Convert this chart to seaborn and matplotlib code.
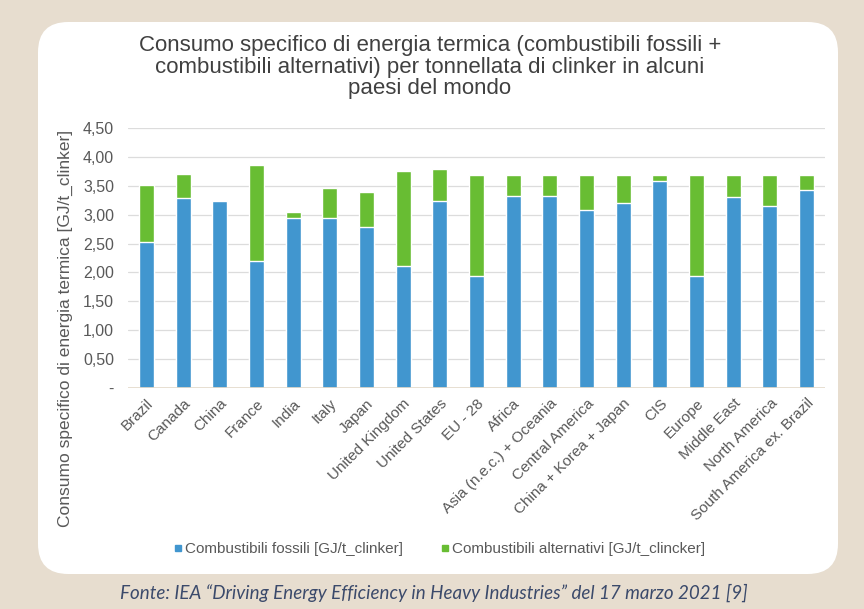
import numpy as np
import pandas as pd
import matplotlib
matplotlib.use("Agg")
import matplotlib.pyplot as plt
import seaborn as sbn
from matplotlib.patches import FancyBboxPatch
from matplotlib.lines import Line2D

# dati
paesi = ["Brazil", "Canada", "China", "France", "India", "Italy", "Japan",
         "United Kingdom", "United States", "EU - 28", "Africa",
         "Asia (n.e.c.) + Oceania", "Central America", "China + Korea + Japan",
         "CIS", "Europe", "Middle East", "North America",
         "South America ex. Brazil"]
fossili = [2.53, 3.29, 3.24, 2.19, 2.95, 2.95, 2.79, 2.12, 3.23, 1.93,
           3.33, 3.33, 3.08, 3.20, 3.59, 1.93, 3.31, 3.15, 3.43]
alternativi = [0.99, 0.42, 0.01, 1.67, 0.09, 0.52, 0.61, 1.64, 0.56, 1.75,
               0.36, 0.36, 0.61, 0.49, 0.10, 1.76, 0.38, 0.54, 0.26]
y_ticks = [0, 0.5, 1.0, 1.5, 2.0, 2.5, 3.0, 3.5, 4.0, 4.5]
y_tick_labels = ["-", "0,50", "1,00", "1,50", "2,00", "2,50", "3,00", "3,50", "4,00", "4,50"]

df = pd.DataFrame({"paese": paesi, "fossili": fossili, "alternativi": alternativi})
df["totale"] = df["fossili"] + df["alternativi"]

blu = "#4196cf"
verde = "#68bd33"
grigio = "#595959"

sbn.set_style("white")
plt.rcParams["font.family"] = ["Liberation Sans", "DejaVu Sans"]

fig = plt.figure(figsize=(8.64, 6.09), dpi=100)
fig.patch.set_facecolor("#e7ddcf")

# riquadro bianco arrotondato
box = FancyBboxPatch((38 / 864, 1 - 574 / 609), (838 - 38) / 864, (574 - 22) / 609,
                     boxstyle="round,pad=0,rounding_size=0.035",
                     transform=fig.transFigure, facecolor="white", edgecolor="none",
                     mutation_aspect=864 / 609, zorder=-1)
fig.patches.append(box)

ax = fig.add_axes([128 / 864, 1 - 388 / 609, (825 - 128) / 864, (388 - 128) / 609])
ax.set_facecolor("none")

sbn.barplot(data=df, x="paese", y="totale", color=verde, width=0.41,
            saturation=1, ax=ax, zorder=3)
sbn.barplot(data=df, x="paese", y="fossili", color=blu, width=0.41,
            saturation=1, ax=ax, zorder=4)

ax.set_ylim(0, 4.5)
ax.set_xlim(-0.5, len(paesi) - 0.5)
ax.set_yticks(y_ticks)
ax.set_yticklabels(y_tick_labels, fontsize=11.5, color=grigio)
for y in y_ticks[1:]:
    ax.axhline(y, color="#dcdcdc", lw=0.9, zorder=1)
ax.axhline(0, color="#e3d9c9", lw=1.2, zorder=5)
for s in ax.spines.values():
    s.set_visible(False)
ax.tick_params(axis="y", length=0, pad=10)
ax.set_xticks(range(len(paesi)))
ax.set_xticklabels(paesi, rotation=45, ha="right", rotation_mode="anchor",
                   fontsize=11, color=grigio)
ax.tick_params(axis="x", length=0, pad=6)
ax.set_xlabel("")
ax.set_ylabel("")

fig.text(65 / 864, 1 - 328 / 609, "Consumo specifico di energia termica [GJ/t_clinker]",
         rotation=90, ha="center", va="center", fontsize=12.5, color=grigio)

fig.text(430 / 864, 1 - 67 / 609,
         "Consumo specifico di energia termica (combustibili fossili +\n"
         "combustibili alternativi) per tonnellata di clinker in alcuni\n"
         "paesi del mondo",
         ha="center", va="center", fontsize=16, color="#404040", linespacing=1.05)

handles = [Line2D([], [], marker="s", ls="", color=blu, markersize=4),
           Line2D([], [], marker="s", ls="", color=verde, markersize=4)]
fig.legend(handles, ["Combustibili fossili [GJ/t_clinker]",
                     "Combustibili alternativi [GJ/t_clincker]"],
           loc="center", bbox_to_anchor=(440 / 864, 1 - 549 / 609), ncol=2,
           frameon=False, fontsize=11, handlelength=0.5, handletextpad=0.2,
           columnspacing=2.5, labelcolor=grigio)

fig.text(434 / 864, 1 - 593 / 609,
         "Fonte: IEA \u201cDriving Energy Efficiency in Heavy Industries\u201d del 17 marzo 2021 [9]",
         ha="center", va="center", fontsize=13.5, style="italic", color="#3b4a6b",
         family=["Lato", "DejaVu Sans"])

fig.savefig("out.png", dpi=100, facecolor=fig.get_facecolor())
